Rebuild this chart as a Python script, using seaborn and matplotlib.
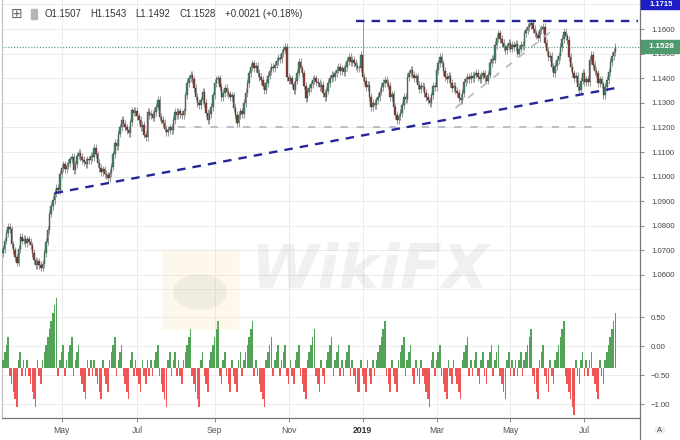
import numpy as np
import pandas as pd
import matplotlib
matplotlib.use("Agg")
import matplotlib.pyplot as plt
import seaborn as sns
from matplotlib.patches import Rectangle, FancyBboxPatch, Circle

# ---------- data (daily closes) ----------
closes = [
    1.0705, 1.0740, 1.0770, 1.0795, 1.0785, 1.0725, 1.0700, 1.0672, 1.0650, 1.0705,
    1.0755, 1.0740, 1.0748, 1.0730, 1.0745, 1.0735, 1.0720, 1.0690, 1.0660, 1.0640,
    1.0655, 1.0640, 1.0630, 1.0645, 1.0690, 1.0735, 1.0783, 1.0850, 1.0880, 1.0905,
    1.0933, 1.0955, 1.0945, 1.1010, 1.1035, 1.1050, 1.1030, 1.1045, 1.1055, 1.1070,
    1.1080, 1.1025, 1.1050, 1.1085, 1.1096, 1.1080, 1.1068, 1.1060, 1.1050, 1.1070,
    1.1068, 1.1085, 1.1080, 1.1116, 1.1090, 1.1055, 1.1035, 1.1019, 1.1030, 1.1010,
    1.1005, 1.0994, 1.1015, 1.1040, 1.1090, 1.1137, 1.1125, 1.1175, 1.1200, 1.1230,
    1.1215, 1.1200, 1.1190, 1.1177, 1.1220, 1.1270, 1.1260, 1.1268, 1.1245, 1.1230,
    1.1200, 1.1210, 1.1170, 1.1160, 1.1262, 1.1250, 1.1255, 1.1240, 1.1262, 1.1285,
    1.1311, 1.1242, 1.1230, 1.1218, 1.1195, 1.1181, 1.1190, 1.1200, 1.1190, 1.1230,
    1.1262, 1.1250, 1.1265, 1.1255, 1.1250, 1.1265, 1.1330, 1.1380, 1.1400, 1.1413,
    1.1395, 1.1360, 1.1325, 1.1299, 1.1290, 1.1310, 1.1344, 1.1300, 1.1260, 1.1230,
    1.1255, 1.1283, 1.1330, 1.1380, 1.1395, 1.1400, 1.1365, 1.1324, 1.1340, 1.1360,
    1.1344, 1.1335, 1.1324, 1.1330, 1.1279, 1.1250, 1.1218, 1.1250, 1.1265, 1.1255,
    1.1300, 1.1340, 1.1380, 1.1420, 1.1446, 1.1460, 1.1440, 1.1450, 1.1421, 1.1405,
    1.1393, 1.1370, 1.1352, 1.1380, 1.1410, 1.1430, 1.1446, 1.1440, 1.1455, 1.1470,
    1.1482, 1.1478, 1.1502, 1.1515, 1.1527, 1.1405, 1.1390, 1.1400, 1.1375, 1.1352,
    1.1390, 1.1421, 1.1466, 1.1440, 1.1420, 1.1370, 1.1320, 1.1345, 1.1360, 1.1375,
    1.1393, 1.1400, 1.1385, 1.1380, 1.1365, 1.1372, 1.1340, 1.1324, 1.1350, 1.1380,
    1.1400, 1.1413, 1.1405, 1.1420, 1.1435, 1.1446, 1.1430, 1.1440, 1.1425, 1.1445,
    1.1470, 1.1486, 1.1465, 1.1475, 1.1462, 1.1450, 1.1440, 1.1440, 1.1494, 1.1405,
    1.1390, 1.1364, 1.1372, 1.1324, 1.1283, 1.1300, 1.1290, 1.1310, 1.1324, 1.1345,
    1.1364, 1.1380, 1.1393, 1.1380, 1.1370, 1.1324, 1.1335, 1.1283, 1.1250, 1.1230,
    1.1245, 1.1259, 1.1290, 1.1324, 1.1315, 1.1405, 1.1420, 1.1433, 1.1415, 1.1400,
    1.1408, 1.1372, 1.1355, 1.1370, 1.1364, 1.1340, 1.1324, 1.1310, 1.1299, 1.1330,
    1.1370, 1.1365, 1.1433, 1.1460, 1.1486, 1.1460, 1.1430, 1.1405, 1.1395, 1.1410,
    1.1380, 1.1360, 1.1370, 1.1350, 1.1340, 1.1320, 1.1311, 1.1340, 1.1385, 1.1395,
    1.1405, 1.1395, 1.1410, 1.1400, 1.1415, 1.1421, 1.1405, 1.1395, 1.1410, 1.1420,
    1.1400, 1.1390, 1.1415, 1.1462, 1.1480, 1.1475, 1.1535, 1.1563, 1.1583, 1.1560,
    1.1543, 1.1525, 1.1515, 1.1530, 1.1545, 1.1520, 1.1535, 1.1525, 1.1540, 1.1500,
    1.1520, 1.1535, 1.1530, 1.1583, 1.1595, 1.1608, 1.1615, 1.1624, 1.1600, 1.1583,
    1.1575, 1.1563, 1.1596, 1.1600, 1.1608, 1.1543, 1.1510, 1.1486, 1.1492, 1.1446,
    1.1421, 1.1450, 1.1474, 1.1490, 1.1527, 1.1560, 1.1588, 1.1570, 1.1555, 1.1486,
    1.1446, 1.1420, 1.1400, 1.1410, 1.1364, 1.1352, 1.1390, 1.1421, 1.1383, 1.1395,
    1.1385, 1.1474, 1.1494, 1.1453, 1.1430, 1.1420, 1.1380, 1.1395, 1.1375, 1.1332,
    1.1365, 1.1393, 1.1425, 1.1466, 1.1490, 1.1507, 1.1528,
]
first_open = 1.0690
wick = 0.0015
flash_idx = 209
flash_high = 1.1633
last_price = 1.1528
top_tag = "1.1715"

start_date = "2018-03-14"
month_starts = ["2018-05-01", "2018-07-02", "2018-09-03", "2018-11-01",
                "2019-01-01", "2019-03-01", "2019-05-01", "2019-07-01"]
month_labels = ["May", "Jul", "Sep", "Nov", "2019", "Mar", "May", "Jul"]
price_ticks = [1.06, 1.07, 1.08, 1.09, 1.10, 1.11, 1.12, 1.13, 1.14, 1.15, 1.16]
osc_ticks = [0.5, 0.0, -0.5, -1.0]

# trend lines (index, price)
support_x, support_y = [30, 359], [1.0933, 1.1364]
resist_x, resist_y = [205, 369], [1.1633, 1.1633]
floor_x, floor_y = [102, 347], [1.1200, 1.1200]
channel_x, channel_y = [263, 321], [1.1279, 1.1604]

header = [("O1.1507", 44), ("H1.1543", 90), ("L1.1492", 135),
          ("C1.1528", 179), ("+0.0021 (+0.18%)", 225)]

# ---------- derived OHLC ----------
n = len(closes)
idx = np.arange(n)
closes_a = np.array(closes)
opens = np.concatenate([[first_open], closes_a[:-1]])
highs = np.maximum(opens, closes_a) + wick
lows = np.minimum(opens, closes_a) - wick
highs[flash_idx] = flash_high
up = closes_a >= opens

# consecutive up/down day counter for the lower pane
streak = []
s = 0
for o, c in zip(opens, closes_a):
    if c > o:
        s = s + 1 if s > 0 else 1
    elif c < o:
        s = s - 1 if s < 0 else -1
    streak.append(s)
streak = np.array(streak)
osc_base = -0.375
osc_step = 0.135

dates = pd.bdate_range(start_date, periods=n)
tick_pos = [int(dates.searchsorted(pd.Timestamp(d))) for d in month_starts]

# ---------- figure ----------
sns.set_theme(style="white")
plt.rcParams["font.family"] = ["Liberation Sans", "DejaVu Sans"]

W, H = 680, 440
fig = plt.figure(figsize=(6.8, 4.4), dpi=100)

def fx(x):
    return x / W

def fy(y):
    return 1 - y / H

ax = fig.add_axes([fx(2), fy(290), fx(638), 290 / H])
ax2 = fig.add_axes([fx(2), fy(418), fx(638), 128 / H], sharex=ax)

ax.set_xlim(-0.6, 370.3)
ax.set_ylim(1.0539, 1.1718)
ax2.set_ylim(-1.236, 0.971)

grid_c = "#ececec"
for p in price_ticks + [1.17]:
    ax.axhline(p, color=grid_c, lw=0.7, zorder=0)
for v in osc_ticks:
    ax2.axhline(v, color=grid_c, lw=0.7, zorder=0)
for t in tick_pos:
    ax.axvline(t, color=grid_c, lw=0.7, zorder=0)
    ax2.axvline(t, color=grid_c, lw=0.7, zorder=0)

# candles
up_c, dn_c = "#3f8b63", "#8d3b33"
ax.vlines(idx, lows, highs, color="#9c9c9c", lw=0.75, zorder=2)
body_h = np.maximum(np.abs(closes_a - opens), 0.00025)
ax.bar(idx, body_h, bottom=np.minimum(opens, closes_a), width=0.85,
       color=np.where(up, up_c, dn_c), edgecolor="#3a3a3a", linewidth=0.25, zorder=3)

# reference lines
navy = "#25259a"
ax.axhline(last_price, color="#4f9a6e", lw=0.8, ls=(0, (1, 1.6)), zorder=1)
sns.lineplot(x=floor_x, y=floor_y, ax=ax, color="#b9b9c9", lw=1.3,
             linestyle=(0, (4, 5)), zorder=4)
sns.lineplot(x=channel_x, y=channel_y, ax=ax, color="#b9b9c9", lw=1.3,
             linestyle=(0, (4, 5)), zorder=4)
sns.lineplot(x=support_x, y=support_y, ax=ax, color=navy, lw=1.7,
             linestyle=(0, (3.6, 3)), zorder=5)
sns.lineplot(x=resist_x, y=resist_y, ax=ax, color=navy, lw=1.7,
             linestyle=(0, (3.6, 3)), zorder=5)

# oscillator
heights = streak * osc_step
ax2.bar(idx, heights, bottom=osc_base, width=0.9,
        color=np.where(streak > 0, "#52a257", "#ee5656"), linewidth=0, zorder=3)

# axes styling
for a in (ax, ax2):
    for sp in a.spines.values():
        sp.set_visible(False)
    a.spines["right"].set_visible(True)
    a.spines["right"].set_color("#777777")
    a.spines["right"].set_linewidth(0.9)
    a.spines["left"].set_visible(True)
    a.spines["left"].set_color("#bbbbbb")
    a.spines["left"].set_linewidth(0.8)
    a.spines["bottom"].set_visible(True)
    a.spines["bottom"].set_color("#777777")
    a.spines["bottom"].set_linewidth(0.9)
    a.yaxis.tick_right()
    a.tick_params(axis="y", right=True, length=3, width=0.6, color="#777777",
                  labelsize=5.6, labelcolor="#444444", pad=5)
    a.set_xlabel("")
    a.set_ylabel("")
    a.grid(False)

ax.set_yticks(price_ticks)
ax.set_yticklabels([f"{p:.4f}" for p in price_ticks])
ax2.set_yticks(osc_ticks)
ax2.set_yticklabels([f"{v:.2f}".replace("-", "\u2212") for v in osc_ticks])

ax.tick_params(axis="x", bottom=False, labelbottom=False)
ax2.set_xticks(tick_pos)
ax2.set_xticklabels(month_labels)
ax2.tick_params(axis="x", bottom=True, length=3, width=0.6, color="#777777",
                labelsize=6.2, labelcolor="#555555", pad=3)
for lab in ax2.get_xticklabels():
    if lab.get_text() == "2019":
        lab.set_fontweight("bold")
        lab.set_color("#333333")

# right axis vertical line through the date row
fig.add_artist(plt.Line2D([fx(640), fx(640)], [fy(418), fy(440)], color="#777777", lw=0.9))

# price tags
fig.add_artist(Rectangle((fx(641), fy(53)), fx(39), 13 / H, color="#4f9a6e", zorder=10))
fig.text(fx(661), fy(46.5), f"{last_price:.4f}", color="white", fontsize=6,
         weight="bold", ha="center", va="center", zorder=11)
fig.add_artist(Rectangle((fx(641), fy(9)), fx(39), 9 / H, color="#1e1ec8", zorder=10))
fig.text(fx(661), fy(4.6), top_tag, color="white", fontsize=5.4,
         weight="bold", ha="center", va="center", zorder=11)

# header
fig.text(fx(17), fy(14), "\u229e", fontsize=10, color="#666666", ha="center", va="center",
         family=["DejaVu Sans"])
fig.add_artist(Rectangle((fx(31), fy(19)), fx(6), 10 / H, color="#b5b5b5"))
for txt, xpos in header:
    fig.text(fx(xpos), fy(14), txt, fontsize=6.9, color="#333333", ha="left", va="center")

# "A" button
fig.add_artist(Circle((fx(660), fy(430)), 6 / W, transform=fig.transFigure,
                      facecolor="#eeeeee", edgecolor="none"))
fig.text(fx(660), fy(430), "A", fontsize=5.5, color="#444444", ha="center", va="center")

# watermark
fig.add_artist(FancyBboxPatch((fx(165), fy(328)), fx(72), 76 / H,
                              boxstyle="round,pad=0.004", facecolor="#f7dc95",
                              edgecolor="none", alpha=0.18, zorder=8))
fig.add_artist(Circle((fx(200), fy(292)), 27 / W, transform=fig.transFigure,
                      facecolor="#8c8c8c", edgecolor="none", alpha=0.10, zorder=8))
fig.text(fx(370), fy(272), "WikiFX", fontsize=44, weight="bold", style="italic",
         color="#9a9a9a", alpha=0.14, ha="center", va="center", zorder=8,
         family=["DejaVu Sans"])

fig.savefig("out.png", dpi=100)
